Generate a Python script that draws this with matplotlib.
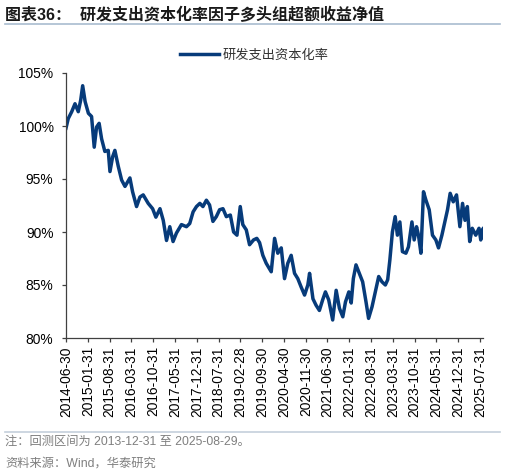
import matplotlib
matplotlib.use("Agg")
import matplotlib.pyplot as plt
import pandas as pd
from matplotlib.lines import Line2D

plt.rcParams['font.family'] = ['Liberation Sans', 'Noto Sans CJK SC', 'DejaVu Sans']

title = "图表36：  研发支出资本化率因子多头组超额收益净值"
series_name = "研发支出资本化率"
note = "注：回测区间为 2013-12-31 至 2025-08-29。"
source = "资料来源：Wind，华泰研究"

dates = [
    "2014-06-30", "2014-07-22", "2014-08-25", "2014-09-26", "2014-10-28", "2014-11-21",
    "2014-12-10", "2015-01-03", "2015-02-04", "2015-03-07", "2015-04-02", "2015-04-25",
    "2015-05-20", "2015-06-13", "2015-07-15", "2015-08-17", "2015-09-03", "2015-09-29",
    "2015-10-21", "2015-11-23", "2015-12-26", "2016-01-28", "2016-03-16", "2016-04-11",
    "2016-05-20", "2016-06-22", "2016-07-24", "2016-09-11", "2016-10-24", "2016-11-25",
    "2017-01-04", "2017-02-05", "2017-03-09", "2017-04-10", "2017-05-12", "2017-06-14",
    "2017-08-02", "2017-09-20", "2017-10-22", "2017-11-24", "2017-12-27", "2018-01-29",
    "2018-02-28", "2018-04-03", "2018-05-04", "2018-06-06", "2018-07-09", "2018-08-10",
    "2018-09-12", "2018-10-15", "2018-11-23", "2018-12-25", "2019-01-27", "2019-02-28",
    "2019-03-25", "2019-04-28", "2019-05-30", "2019-07-08", "2019-08-09", "2019-09-05",
    "2019-10-07", "2019-11-09", "2019-12-28", "2020-01-30", "2020-03-01", "2020-04-04",
    "2020-05-06", "2020-06-07", "2020-07-10", "2020-08-12", "2020-09-13", "2020-10-16",
    "2020-11-18", "2020-12-20", "2021-01-06", "2021-02-08", "2021-03-10", "2021-04-12",
    "2021-05-14", "2021-06-10", "2021-07-12", "2021-08-20", "2021-09-23", "2021-10-25",
    "2021-11-27", "2021-12-23", "2022-01-25", "2022-02-17", "2022-03-10", "2022-04-05",
    "2022-05-07", "2022-06-09", "2022-07-12", "2022-08-06", "2022-09-09", "2022-10-11",
    "2022-11-13", "2022-12-15", "2023-01-17", "2023-02-09", "2023-03-02", "2023-03-27",
    "2023-04-23", "2023-05-15", "2023-06-08", "2023-07-03", "2023-08-06", "2023-08-31",
    "2023-10-04", "2023-10-26", "2023-11-18", "2023-12-07", "2023-12-31", "2024-01-25",
    "2024-02-18", "2024-03-21", "2024-04-22", "2024-05-25", "2024-06-20", "2024-07-23",
    "2024-08-24", "2024-09-16", "2024-10-12", "2024-11-11", "2024-12-13", "2025-01-15",
    "2025-02-10", "2025-03-06", "2025-03-29", "2025-04-21", "2025-05-16", "2025-06-19",
    "2025-07-21", "2025-08-07", "2025-08-22", "2025-08-29",
]

values = [
    99.8, 100.7, 101.35, 102.1, 101.35, 102.45,
    103.8, 102.3, 101.2, 100.9, 98.0, 99.9,
    100.25, 98.8, 97.6, 97.7, 95.7, 97.1,
    97.7, 96.2, 94.9, 94.3, 95.1, 93.8,
    92.4, 93.3, 93.5, 92.7, 92.2, 91.4,
    92.2, 91.1, 89.2, 90.5, 89.1, 89.9,
    90.7, 90.5, 90.8, 91.9, 92.4, 92.7,
    92.4, 93.0, 92.55, 91.0, 91.45, 92.1,
    92.2, 91.45, 91.6, 90.0, 89.7, 92.4,
    90.7, 90.2, 88.8, 89.25, 89.4, 89.0,
    87.8, 87.05, 86.25, 89.4, 88.0, 88.5,
    85.6, 87.05, 87.8, 86.1, 85.6, 84.8,
    84.05, 85.0, 86.1, 83.7, 83.1, 82.6,
    83.6, 84.35, 83.6, 81.7, 84.5, 82.8,
    82.0, 83.4, 84.35, 83.3, 85.6, 86.9,
    86.1, 85.3, 83.4, 81.85, 82.95, 84.35,
    85.8, 85.3, 85.0, 85.5, 87.35, 90.0,
    91.45, 89.7, 90.95, 88.15, 88.0, 88.6,
    90.95, 89.25, 90.5, 89.7, 88.0, 93.8,
    93.0, 92.1, 89.7, 89.25, 88.5, 89.7,
    91.1, 92.1, 93.65, 92.85, 93.5, 90.5,
    92.7, 91.1, 92.4, 89.1, 90.35, 89.7,
    90.35, 89.25, 90.2, 90.3,
]

tick_labels = [
    "2014-06-30", "2015-01-31", "2015-08-31", "2016-03-31", "2016-10-31",
    "2017-05-31", "2017-12-31", "2018-07-31", "2019-02-28", "2019-09-30",
    "2020-04-30", "2020-11-30", "2021-06-30", "2022-01-31", "2022-08-31",
    "2023-03-31", "2023-10-31", "2024-05-31", "2024-12-31", "2025-07-31",
]
y_ticks = [80, 85, 90, 95, 100, 105]

W, H = 505, 475
fig = plt.figure(figsize=(W / 100, H / 100), dpi=100)

# Title
fig.text(5 / W, 1 - 15 / H, title, fontsize=11.5, fontweight='bold',
         family=['Liberation Sans', 'Noto Sans CJK SC'], va='center', ha='left', color='#1a1a1a')
fig.add_artist(Line2D([5 / W, 500 / W], [1 - 24 / H, 1 - 24 / H], color='#a9bccf', lw=1.2))

# Bottom separator and notes
fig.add_artist(Line2D([5 / W, 500 / W], [1 - 432 / H, 1 - 432 / H], color='#c5d0db', lw=1.2))
fig.text(5 / W, 1 - 442 / H, note, fontsize=8.8, color='#7f7f7f', va='center', ha='left',
         family=['Liberation Sans', 'Noto Sans CJK SC'])
fig.text(5 / W, 1 - 464 / H, source, fontsize=8.8, color='#7f7f7f', va='center', ha='left',
         family=['Liberation Sans', 'Noto Sans CJK SC'])

ax = fig.add_axes([66 / W, 1 - 338 / H, (483 - 66) / W, (338 - 73) / H])
x = pd.to_datetime(dates)
ax.plot(x, [v / 100 for v in values], color='#073b7a', lw=2.5, label=series_name,
        solid_joinstyle='round')

ax.set_ylim(0.80, 1.05)
ax.set_yticks([t / 100 for t in y_ticks])
ax.set_yticklabels([f"{t}%" for t in y_ticks])
ax.set_xlim(pd.Timestamp("2014-06-30"), pd.Timestamp("2025-08-29"))
tick_pos = pd.to_datetime(tick_labels)
ax.set_xticks(tick_pos)
ax.set_xticklabels(tick_labels, rotation=90)

for s in ['top', 'right']:
    ax.spines[s].set_visible(False)
for s in ['left', 'bottom']:
    ax.spines[s].set_color('#404040')
    ax.spines[s].set_linewidth(0.9)
ax.tick_params(axis='both', direction='out', length=3.0, width=0.9, color='#404040',
               labelsize=9.9, labelcolor='#000000')
ax.tick_params(axis='y', pad=6)
ax.tick_params(axis='x', pad=3)

leg = ax.legend(loc='center', bbox_to_anchor=(0.452, 1.068), frameon=False,
                handlelength=2.95, handletextpad=0.25, borderpad=0, borderaxespad=0,
                prop={'family': 'Noto Sans CJK SC', 'size': 9.5})
for t in leg.get_texts():
    t.set_color('#333333')

fig.savefig("out.png", dpi=100)
